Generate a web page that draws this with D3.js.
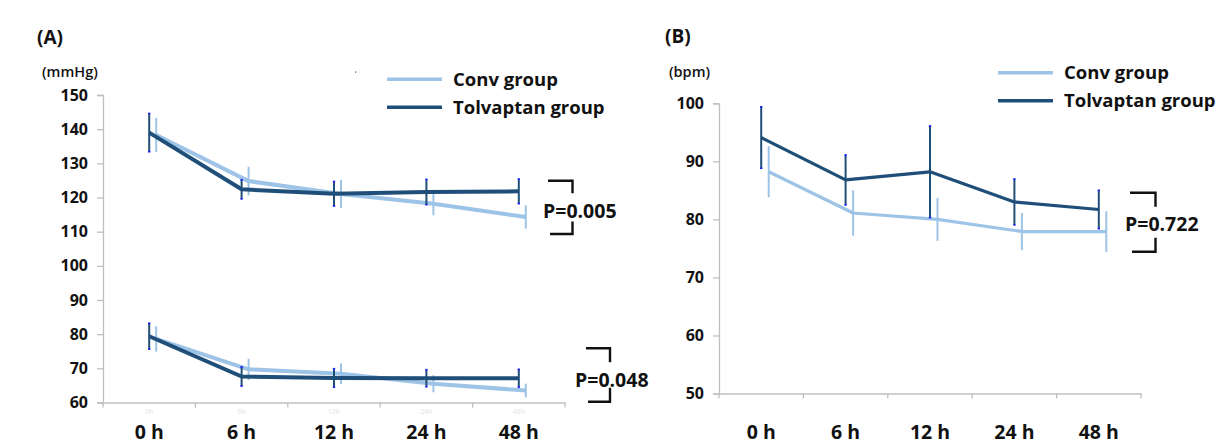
<!DOCTYPE html>
<html><head><meta charset="utf-8">
<script src="https://cdn.jsdelivr.net/npm/d3@7"></script>
<style>
body{margin:0;background:#fff;}
text{font-family:"Open Sans","Noto Sans",sans-serif;}
</style></head>
<body><svg id="c" width="1219" height="444"></svg>
<script>
// ---------- data ----------
const timeLabels = ["0 h","6 h","12 h","24 h","48 h"];
const smallLabels = ["0h","6h","12h","24h","48h"];
const seriesNames = ["Conv group","Tolvaptan group"];

const sbpConv    = [138.3, 124.8, 121.0, 118.2, 114.3];
const sbpConvErr = [5.0, 4.2, 4.1, 3.4, 3.4];
const sbpTolv    = [139.0, 122.4, 121.1, 121.6, 121.8];
const sbpTolvErr = [5.6, 2.8, 3.6, 3.7, 3.6];

const dbpConv    = [78.6, 69.7, 68.4, 65.5, 63.5];
const dbpConvErr = [3.7, 3.1, 3.0, 2.5, 2.0];
const dbpTolv    = [79.4, 67.6, 67.2, 67.1, 67.1];
const dbpTolvErr = [3.8, 2.8, 2.7, 2.5, 2.6];

const hrConv     = [88.2, 81.1, 80.0, 77.9, 77.9];
const hrConvErr  = [4.4, 3.9, 3.7, 3.2, 3.5];
const hrTolv     = [94.1, 86.8, 88.2, 83.0, 81.7];
const hrTolvErr  = [5.3, 4.3, 7.9, 3.95, 3.3];

const ticksA = [60,70,80,90,100,110,120,130,140,150];
const ticksB = [50,60,70,80,90,100];
const pLabels = ["P=0.005","P=0.048","P=0.722"];

// ---------- style ----------
const CONV = "#9dc3e6", TOLV = "#1f4e79", AXIS = "#bfbfbf";
const svg = d3.select("#c");

function panel(o){
  const x = d3.scaleBand().domain(timeLabels).range(o.xr).padding(0);
  const y = d3.scaleLinear().domain(o.yd).range(o.yr);
  const g = svg.append("g");
  const ya = g.append("g").attr("transform",`translate(${o.xr[0]},0)`)
    .call(d3.axisLeft(y).tickValues(o.ticks).tickSize(6).tickPadding(9).tickFormat(d3.format("d")));
  ya.select(".domain").attr("stroke",AXIS).attr("stroke-width",1.3);
  ya.selectAll(".tick line").attr("stroke",AXIS).attr("stroke-width",1.3);
  ya.selectAll(".tick text").attr("fill","#111").attr("font-size",16).attr("font-weight",700);
  const xa = g.append("g").attr("transform",`translate(0,${o.yr[0]})`)
    .call(d3.axisBottom(x).tickSize(0).tickFormat(""));
  xa.select(".domain").attr("stroke",AXIS).attr("stroke-width",1.3);
  const bounds = timeLabels.map(t=>x(t)).concat([o.xr[1]]);
  g.selectAll(".xt").data(bounds).join("line")
    .attr("x1",d=>d).attr("x2",d=>d).attr("y1",o.yr[0]).attr("y2",o.yr[0]+5)
    .attr("stroke",AXIS).attr("stroke-width",1.3);
  if(o.small){
    g.selectAll(".sl").data(smallLabels).join("text")
      .attr("x",(d,i)=>x(timeLabels[i])+x.bandwidth()/2).attr("y",o.yr[0]+11)
      .attr("text-anchor","middle").attr("font-size",7).attr("fill","#e3e3e3").text(d=>d);
  }
  g.selectAll(".bl").data(timeLabels).join("text")
    .attr("x",d=>x(d)+x.bandwidth()/2).attr("y",439)
    .attr("text-anchor","middle").attr("font-size",19.5).attr("font-weight",700).attr("fill","#111").text(d=>d);

  const cx = i => x(timeLabels[i]) + x.bandwidth()/2;
  function series(vals, errs, color, dx, lw, caps){
    const line = d3.line().x((d,i)=>cx(i)+dx).y(d=>y(d));
    g.append("path").datum(vals).attr("d",line).attr("fill","none")
      .attr("stroke",color).attr("stroke-width",lw).attr("stroke-linejoin","round");
    g.selectAll(null).data(vals).join("line")
      .attr("x1",(d,i)=>cx(i)+dx).attr("x2",(d,i)=>cx(i)+dx)
      .attr("y1",(d,i)=>y(d+errs[i])).attr("y2",(d,i)=>y(d-errs[i]))
      .attr("stroke",color).attr("stroke-width",2);
    if(caps){
      vals.forEach((d,i)=>{
        [d+errs[i], d-errs[i]].forEach(v=>{
          g.append("line").attr("x1",cx(i)+dx-1.2).attr("x2",cx(i)+dx+1.2)
            .attr("y1",y(v)).attr("y2",y(v)).attr("stroke","#2020ff").attr("stroke-width",1.6);
        });
      });
    }
  }
  o.pairs.forEach(p=>{
    series(p.conv, p.convErr, CONV, o.dodge, o.lw, false);
    series(p.tolv, p.tolvErr, TOLV, 0, o.lw, true);
  });
  return {x,y,g};
}

panel({xr:[103,565], yd:[60,150], yr:[402.5,95], ticks:ticksA, small:true, dodge:7, lw:4,
  pairs:[{conv:sbpConv,convErr:sbpConvErr,tolv:sbpTolv,tolvErr:sbpTolvErr},
         {conv:dbpConv,convErr:dbpConvErr,tolv:dbpTolv,tolvErr:dbpTolvErr}]});
panel({xr:[719,1141], yd:[50,100], yr:[393.5,103.3], ticks:ticksB, small:false, dodge:7.5, lw:3.2,
  pairs:[{conv:hrConv,convErr:hrConvErr,tolv:hrTolv,tolvErr:hrTolvErr}]});

function txt(x,y,s,size,w,anchor){
  return svg.append("text").attr("x",x).attr("y",y).attr("font-size",size).attr("font-weight",w)
    .attr("fill","#111").attr("text-anchor",anchor||"start").text(s);
}
txt(37,44,"(A)",19,700);
txt(665,43,"(B)",19,700);
txt(42,76.5,"(mmHg)",14.5,600);
txt(669,76.5,"(bpm)",14.5,600);
svg.append("rect").attr("x",355).attr("y",71.5).attr("width",1.2).attr("height",1.2).attr("fill","#555");

function legend(x0,y0){
  seriesNames.forEach((n,i)=>{
    const yy = y0 + i*28;
    svg.append("line").attr("x1",x0).attr("x2",x0+55).attr("y1",yy).attr("y2",yy)
      .attr("stroke",i===0?CONV:TOLV).attr("stroke-width",3.5);
    txt(x0+66,yy+6.5,n,18.5,700);
  });
}
legend(387,79.3);
legend(998,72.7);

function bracket(x1,x2,yTop,yBot,arm,label,tx,ty){
  const p = `M${x1},${yTop}H${x2}V${yTop+arm}M${x1+2},${yBot}H${x2}V${yBot-arm}`;
  svg.append("path").attr("d",p).attr("fill","none").attr("stroke","#111").attr("stroke-width",2.4);
  txt(tx,ty,label,19.5,700);
}
bracket(548,572.5,180.7,234,12.5,pLabels[0],543,217.5);
bracket(586,610,348.3,401.7,14,pLabels[1],575,387);
bracket(1130,1155.5,192.7,251.7,14,pLabels[2],1125,230.5);
</script></body></html>
